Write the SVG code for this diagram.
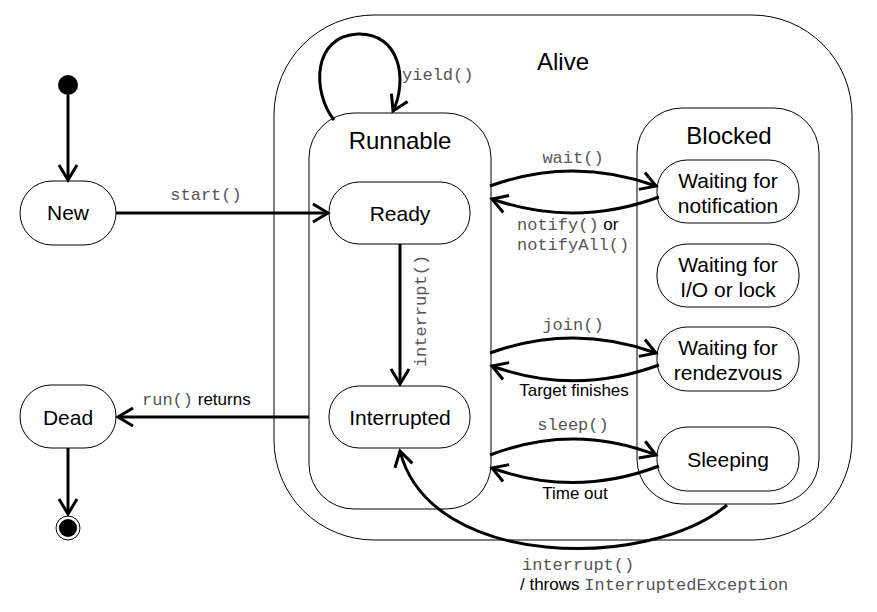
<svg xmlns="http://www.w3.org/2000/svg" width="877" height="612" viewBox="0 0 877 612">
<style>
.st{fill:#fff;stroke:#000;stroke-width:1}
.t{font-family:"Liberation Sans",Arial,sans-serif;font-size:21px;fill:#000;text-anchor:middle}
.h{font-family:"Liberation Sans",Arial,sans-serif;font-size:24px;fill:#000;text-anchor:middle}
.l{font-family:"Liberation Sans",Arial,sans-serif;font-size:17px;fill:#000}
.m{font-family:"Liberation Mono","Courier New",monospace;font-size:17px;fill:#555}
.c{fill:none;stroke:#000;stroke-width:3;marker-end:url(#a)}
</style>
<defs>
<marker id="a" markerUnits="userSpaceOnUse" markerWidth="20" markerHeight="22" viewBox="0 0 20 22" refX="17" refY="11" orient="auto">
<path d="M2,2 L17,11 L2,20" fill="none" stroke="#000" stroke-width="3"/>
</marker>
</defs>
<rect width="877" height="612" fill="#fff"/>
<g id="alive">
<rect class="st" x="274" y="15" width="578" height="525" rx="100"/>
<text class="h" x="563" y="70">Alive</text>
</g>
<g id="runnable">
<rect class="st" x="309" y="113" width="182" height="396" rx="45"/>
<text class="h" x="400" y="149">Runnable</text>
</g>
<g id="blocked">
<rect class="st" x="637" y="108" width="182" height="396" rx="45"/>
<text class="h" x="729" y="144">Blocked</text>
</g>
<g id="initial">
<circle cx="68" cy="85" r="10" fill="#000"/>
</g>
<g id="new">
<rect class="st" x="20" y="181" width="96" height="64" rx="32"/>
<text class="t" x="68" y="220">New</text>
</g>
<g id="ready">
<rect class="st" x="329" y="182" width="141" height="62" rx="30"/>
<text class="t" x="400" y="221">Ready</text>
</g>
<g id="interrupted">
<rect class="st" x="329" y="386" width="141" height="62" rx="30"/>
<text class="t" x="400" y="425">Interrupted</text>
</g>
<g id="dead">
<rect class="st" x="20" y="385" width="96" height="63" rx="31"/>
<text class="t" x="68" y="425">Dead</text>
</g>
<g id="final">
<circle cx="68" cy="528" r="12" fill="#fff" stroke="#000" stroke-width="1"/>
<circle cx="68" cy="528" r="9" fill="#000"/>
</g>
<g id="waiting-notification">
<rect class="st" x="657" y="160" width="142" height="63" rx="30"/>
<text class="t" x="728" y="188">Waiting for</text>
<text class="t" x="728" y="213">notification</text>
</g>
<g id="waiting-io">
<rect class="st" x="657" y="244" width="142" height="63" rx="30"/>
<text class="t" x="728" y="272">Waiting for</text>
<text class="t" x="728" y="297">I/O or lock</text>
</g>
<g id="waiting-rendezvous">
<rect class="st" x="657" y="327" width="142" height="64" rx="30"/>
<text class="t" x="728" y="355">Waiting for</text>
<text class="t" x="728" y="380">rendezvous</text>
</g>
<g id="sleeping">
<rect class="st" x="657" y="427" width="142" height="64" rx="30"/>
<text class="t" x="728" y="467">Sleeping</text>
</g>
<g id="connectors">
<path class="c" d="M68,95 L68,180"/>
<path class="c" d="M116,213 L328,213"/>
<text class="m" x="206" y="200" text-anchor="middle">start()</text>
<path class="c" d="M334,120 C312,92 312,36 358,34 C400,33 408,80 393,111"/>
<text class="m" x="402" y="80">yield()</text>
<path class="c" d="M400,244 L400,384"/>
<text class="m" transform="translate(426,311) rotate(-90)" text-anchor="middle">interrupt()</text>
<path class="c" d="M490,186 Q573,156 656,186"/>
<text class="m" x="573" y="163" text-anchor="middle">wait()</text>
<path class="c" d="M659,197 Q575,228 492,199"/>
<text x="517" y="230"><tspan class="m">notify()</tspan><tspan class="l"> or</tspan></text>
<text class="m" x="517" y="250">notifyAll()</text>
<path class="c" d="M490,353 Q573,323 656,353"/>
<text class="m" x="573" y="330" text-anchor="middle">join()</text>
<path class="c" d="M659,365 Q575,396 492,366"/>
<text class="l" x="574" y="396" text-anchor="middle">Target finishes</text>
<path class="c" d="M490,455 Q573,423 656,455"/>
<text class="m" x="573" y="430" text-anchor="middle">sleep()</text>
<path class="c" d="M659,466 Q575,498 492,468"/>
<text class="l" x="575" y="499" text-anchor="middle">Time out</text>
<path class="c" d="M727,505 C650,570 430,570 400,451"/>
<text class="m" x="522" y="570">interrupt()</text>
<text x="520" y="590"><tspan class="l">/ throws </tspan><tspan class="m">InterruptedException</tspan></text>
<path class="c" d="M309,417 L118,417"/>
<text x="142" y="405"><tspan class="m">run()</tspan><tspan class="l"> returns</tspan></text>
<path class="c" d="M68,448 L68,514"/>
</g>
</svg>
